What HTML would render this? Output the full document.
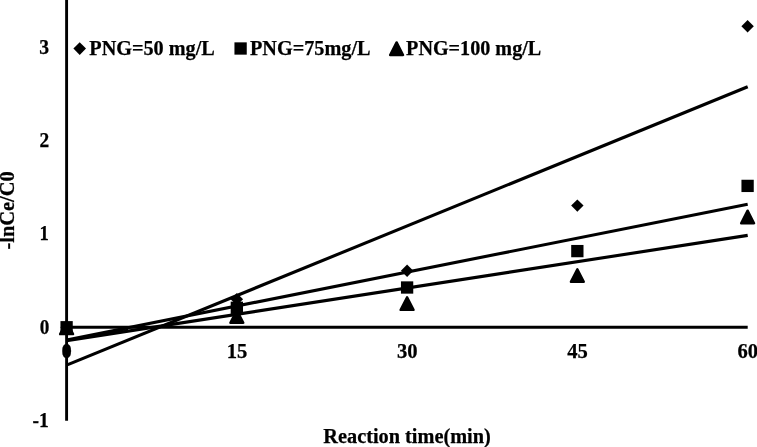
<!DOCTYPE html>
<html><head><meta charset="utf-8"><title>Kinetics chart</title>
<style>
html,body{margin:0;padding:0;background:#fff;}
body{width:757px;height:447px;overflow:hidden;}
svg{display:block;}
text{font-family:"Liberation Serif","Times New Roman",serif;font-weight:bold;fill:#000;stroke:#000;stroke-width:0.25px;}
</style></head>
<body>
<svg width="757" height="447" viewBox="0 0 757 447">
<rect width="757" height="447" fill="#fff"/>
<g font-size="20.6" text-anchor="middle">
<text x="66.70" y="357.6">0</text>
<text x="236.95" y="357.9">15</text>
<text x="407.20" y="357.9">30</text>
<text x="577.45" y="357.9">45</text>
<text x="747.70" y="357.9">60</text>
</g>
<ellipse cx="66.7" cy="350.1" rx="3" ry="5.2" fill="#000"/>
<line x1="66.6" y1="0" x2="66.6" y2="420.8" stroke="#000" stroke-width="2.9"/>
<line x1="66.6" y1="327.35" x2="747.7" y2="327.35" stroke="#000" stroke-width="3"/>
<g font-size="20.6" text-anchor="end">
<text x="49.0" y="53.60" textLength="9.8" lengthAdjust="spacingAndGlyphs">3</text>
<text x="49.2" y="146.70" textLength="9.7" lengthAdjust="spacingAndGlyphs">2</text>
<text x="48.7" y="239.90" textLength="9.3" lengthAdjust="spacingAndGlyphs">1</text>
<text x="49.3" y="334.20" textLength="9.6" lengthAdjust="spacingAndGlyphs">0</text>
<text x="48.9" y="427.30" textLength="16.3" lengthAdjust="spacingAndGlyphs">-1</text>
</g>
<g stroke="#000" stroke-width="3.1" fill="none">
<line x1="66.6" y1="365.1" x2="747.7" y2="86.8"/>
<line x1="66.6" y1="339.9" x2="747.7" y2="204.2"/>
<line x1="66.6" y1="340.6" x2="747.7" y2="235.4"/>
<line x1="66.6" y1="340.25" x2="128" y2="329.4" stroke-width="1.4"/>
</g>
<g fill="#000">
<path d="M66.60 321.10L72.80 327.30L66.60 333.50L60.40 327.30Z"/>
<path d="M236.85 293.10L243.05 299.30L236.85 305.50L230.65 299.30Z"/>
<path d="M407.10 264.50L413.30 270.70L407.10 276.90L400.90 270.70Z"/>
<path d="M577.35 199.40L583.55 205.60L577.35 211.80L571.15 205.60Z"/>
<path d="M747.60 20.00L753.80 26.20L747.60 32.40L741.40 26.20Z"/>
<rect x="60.45" y="321.10" width="12.3" height="12.3"/>
<rect x="230.70" y="301.65" width="12.3" height="12.3"/>
<rect x="400.95" y="281.35" width="12.3" height="12.3"/>
<rect x="571.20" y="244.95" width="12.3" height="12.3"/>
<rect x="741.45" y="179.75" width="12.3" height="12.3"/>
<path d="M66.60 321.55L73.05 334.15L60.15 334.15Z" stroke="#000" stroke-width="2.4" stroke-linejoin="round"/>
<path d="M236.85 310.20L243.30 322.80L230.40 322.80Z" stroke="#000" stroke-width="2.4" stroke-linejoin="round"/>
<path d="M407.10 297.30L413.55 309.90L400.65 309.90Z" stroke="#000" stroke-width="2.4" stroke-linejoin="round"/>
<path d="M577.35 269.20L583.80 281.80L570.90 281.80Z" stroke="#000" stroke-width="2.4" stroke-linejoin="round"/>
<path d="M747.60 210.65L754.05 223.25L741.15 223.25Z" stroke="#000" stroke-width="2.4" stroke-linejoin="round"/>
</g>
<g font-size="20.6" fill="#000">
<path d="M79.70 42.30L86.00 48.60L79.70 54.90L73.40 48.60Z"/>
<text id="l1" x="89.3" y="55" textLength="125.45" lengthAdjust="spacingAndGlyphs">PNG=50 mg/L</text>
<rect x="234.45" y="42.35" width="12.3" height="12.3"/>
<text id="l2" x="250.0" y="55" textLength="120.6" lengthAdjust="spacingAndGlyphs">PNG=75mg/L</text>
<path d="M396.60 42.40L403.05 55.00L390.15 55.00Z" stroke="#000" stroke-width="2.4" stroke-linejoin="round"/>
<text id="l3" x="406.1" y="55" textLength="135.15" lengthAdjust="spacingAndGlyphs">PNG=100 mg/L</text>
</g>
<text id="xt" x="407.05" y="443" font-size="20.6" text-anchor="middle" textLength="167.45" lengthAdjust="spacingAndGlyphs">Reaction time(min)</text>
<text id="yt" transform="translate(14,210.4) rotate(-90)" font-size="20.6" text-anchor="middle" textLength="78.3" lengthAdjust="spacingAndGlyphs">-lnCe/C0</text>
</svg>
</body></html>
